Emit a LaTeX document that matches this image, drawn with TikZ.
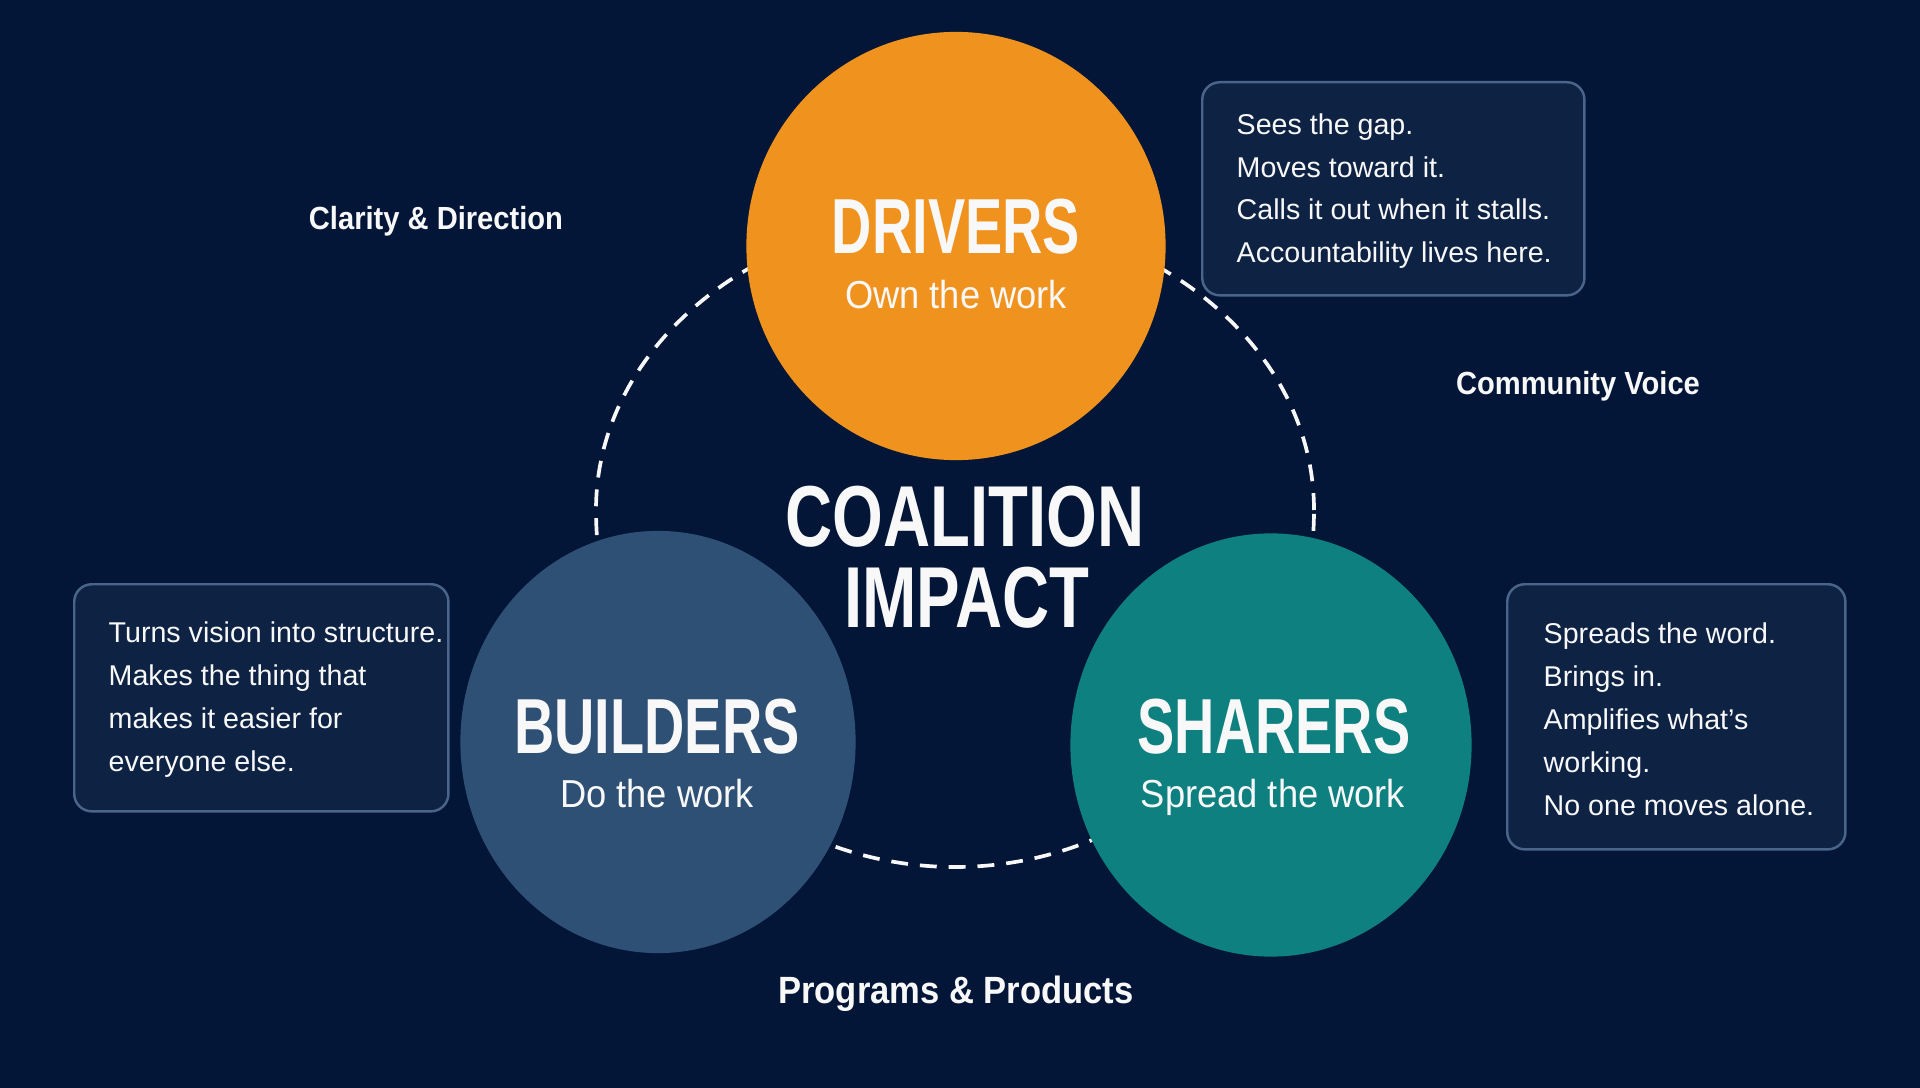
\documentclass[tikz,border=0pt]{standalone}
\usepackage{fontspec}
\setmainfont{Liberation Sans}
\newfontfamily\headfont{Liberation Sans}[FakeStretch=0.715]
\newfontfamily\titlefont{Liberation Sans}[FakeStretch=0.754]
\newfontfamily\subfont{Liberation Sans}[FakeStretch=0.93]
\newfontfamily\labelfont{Liberation Sans}[FakeStretch=0.91]
\usetikzlibrary{shapes.geometric}
\definecolor{bg}{RGB}{3,22,56}
\definecolor{drvcol}{RGB}{240,146,30}
\definecolor{bldcol}{RGB}{47,80,117}
\definecolor{shrcol}{RGB}{14,128,128}
\definecolor{boxfill}{RGB}{14,34,68}
\definecolor{boxline}{RGB}{74,100,138}
\definecolor{txt}{RGB}{248,248,248}
\tikzset{
  role/.style={ellipse, inner sep=0pt},
  ringline/.style={draw=txt, line width=1.05pt, dash pattern=on 4.8pt off 3.4pt},
  head/.style={anchor=base, text=txt, inner sep=0pt, font=\headfont\bfseries\fontsize{22.2}{26}\selectfont},
  title/.style={anchor=base, text=txt, inner sep=0pt, font=\titlefont\bfseries\fontsize{24.6}{28}\selectfont},
  sub/.style={anchor=base, text=txt, inner sep=0pt, font=\subfont\fontsize{11.1}{13}\selectfont},
  lab/.style={anchor=base, text=txt, inner sep=0pt, font=\labelfont\bfseries\fontsize{9.1}{11}\selectfont},
  biglab/.style={anchor=base, text=txt, inner sep=0pt, font=\labelfont\bfseries\fontsize{10.8}{13}\selectfont},
  infobox/.style={draw=boxline, fill=boxfill, line width=0.7pt, rounded corners=5pt, anchor=north west, inner sep=0pt},
  body/.style={anchor=base west, text=txt, inner sep=0pt, font=\fontsize{8.14}{10}\selectfont},
}
\begin{document}
\begin{tikzpicture}[x=0.01cm,y=-0.01cm]
\path[fill=bg,use as bounding box] (0,0) rectangle (1920,1088);

% dashed ring (flatter at the top than at the bottom)
\coordinate (ringR) at (1314,510);
\draw[ringline] (ringR) arc[start angle=0, end angle=-180, x radius=359, y radius=295]
                 arc[start angle=180, end angle=0, x radius=359, y radius=357];

% role circles
\node[role, fill=drvcol, minimum width=4.19cm, minimum height=4.28cm] (drv) at (956,246) {};
\node[role, fill=bldcol, minimum width=3.95cm, minimum height=4.22cm] (bld) at (658,742) {};
\node[role, fill=shrcol, minimum width=4.01cm, minimum height=4.23cm] (shr) at (1271,745) {};

% circle texts
\node[head] (drvh) at (956,254) {DRIVERS};
\node[sub]  (drvs) at (956,309) {Own the work};
\node[head] (bldh) at (657,753) {BUILDERS};
\node[sub]  (blds) at (657,807) {Do the work};
\node[head] (shrh) at (1274,753) {SHARERS};
\node[sub]  (shrs) at (1273,807) {Spread the work};

% centre title
\node[title] (t1) at (965,546) {COALITION};
\node[title] (t2) at (967,627) {IMPACT};

% side labels
\node[lab] (l1) at (436,230) {Clarity \& Direction};
\node[lab] (l2) at (1578,395) {Community Voice};
\node[biglab] (l3) at (956,1003) {Programs \& Products};

% info boxes
\node[infobox, minimum width=3.82cm, minimum height=2.13cm] (bx1) at (1201,81) {};
\node[body] (a1) at (1236,135) {Sees the gap.};
\node[body] (a2) at (1236,178) {Moves toward it.};
\node[body] (a3) at (1236,220) {Calls it out when it stalls.};
\node[body] (a4) at (1236,263) {Accountability lives here.};

\node[infobox, minimum width=3.74cm, minimum height=2.27cm] (bx2) at (73,583) {};
\node[body] (b1) at (108,642) {Turns vision into structure.};
\node[body] (b2) at (108,685) {Makes the thing that};
\node[body] (b3) at (108,728) {makes it easier for};
\node[body] (b4) at (108,771) {everyone else.};

\node[infobox, minimum width=3.38cm, minimum height=2.65cm] (bx3) at (1506,583) {};
\node[body] (c1) at (1543,643) {Spreads the word.};
\node[body] (c2) at (1543,686) {Brings in.};
\node[body] (c3) at (1543,729) {Amplifies what’s};
\node[body] (c4) at (1543,772) {working.};
\node[body] (c5) at (1543,815) {No one moves alone.};
\end{tikzpicture}
\end{document}
